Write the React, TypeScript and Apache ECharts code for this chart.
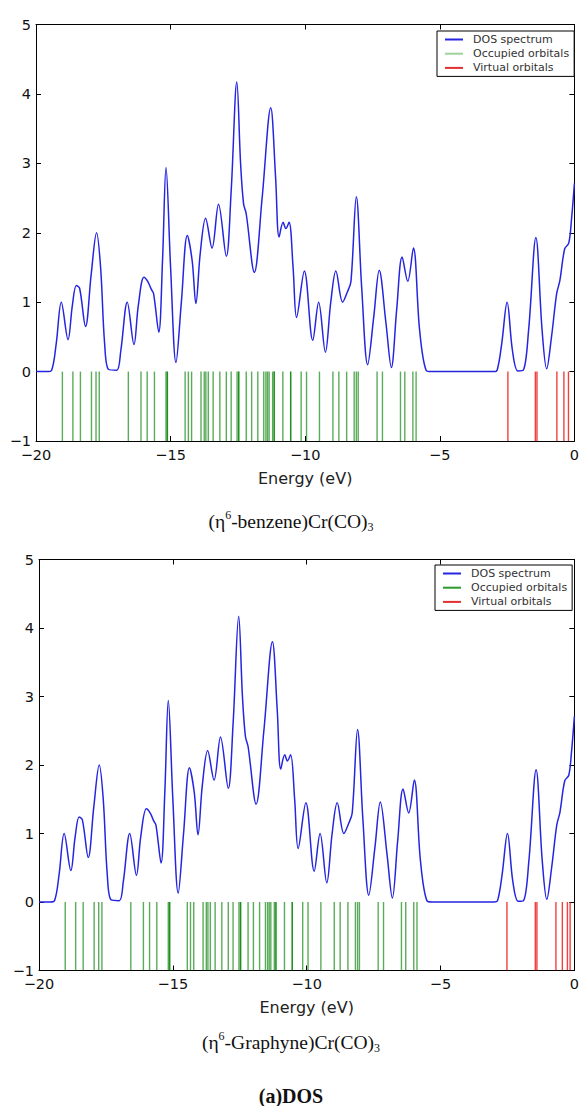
import React, { useEffect, useRef } from "react";
import * as echarts from "echarts";

// DOS spectrum: [energy (eV), DOS]
const dosSpectrum: number[][] = [
  [-20, 0], [-19.6, 0], [-19.42, 0.02], [-19.25, 0.4], [-19.06, 1.0], [-18.81, 0.46],
  [-18.65, 0.95], [-18.5, 1.24], [-18.38, 1.2], [-18.16, 0.65], [-17.95, 1.4], [-17.75, 2.0],
  [-17.6, 1.5], [-17.45, 0.4], [-17.3, 0.03], [-17.0, 0.02], [-16.85, 0.3], [-16.61, 1.0],
  [-16.36, 0.39], [-16.2, 0.95], [-15.99, 1.36], [-15.85, 1.3], [-15.71, 1.18], [-15.63, 1.12],
  [-15.44, 0.57], [-15.3, 1.6], [-15.17, 2.94], [-15.0, 1.5], [-14.8, 0.13], [-14.6, 1.0],
  [-14.38, 1.96], [-14.2, 1.6], [-14.06, 0.98], [-13.9, 1.7], [-13.7, 2.21], [-13.46, 1.78],
  [-13.22, 2.41], [-12.93, 1.66], [-12.75, 2.6], [-12.54, 4.17], [-12.4, 3.0], [-12.29, 2.42],
  [-12.19, 2.27], [-11.89, 1.43], [-11.6, 2.5], [-11.28, 3.8], [-11.1, 2.8], [-10.97, 1.94],
  [-10.82, 2.15], [-10.72, 2.06], [-10.6, 2.15], [-10.45, 1.5], [-10.32, 0.78], [-10.03, 1.45],
  [-9.72, 0.45], [-9.5, 1.0], [-9.25, 0.28], [-9.05, 1.0], [-8.86, 1.45], [-8.61, 1.0],
  [-8.43, 1.15], [-8.3, 1.3], [-8.1, 2.52], [-7.9, 1.2], [-7.68, 0.1], [-7.45, 0.8],
  [-7.25, 1.46], [-7.0, 0.7], [-6.8, 0.06], [-6.6, 0.9], [-6.4, 1.65], [-6.19, 1.3],
  [-5.98, 1.78], [-5.75, 0.6], [-5.51, 0.02], [-5.3, 0], [-3.0, 0], [-2.87, 0.02],
  [-2.7, 0.4], [-2.5, 1.0], [-2.3, 0.3], [-2.1, 0.01], [-1.9, 0.02], [-1.7, 0.6],
  [-1.43, 1.93], [-1.2, 0.6], [-1.03, 0.04], [-0.85, 0.5], [-0.66, 1.12], [-0.54, 1.31],
  [-0.36, 1.77], [-0.21, 1.85], [-0.11, 2.18], [0, 2.71],
];

// Occupied orbital energies (eV)
const occupiedOrbitals: number[] = [
  -19.02, -18.63, -18.35, -17.94, -17.77, -17.65, -16.57, -16.1, -15.87, -15.6,
  -15.17, -15.12, -15.12, -14.46, -14.34, -14.22, -13.87, -13.75, -13.69, -13.6,
  -13.42, -13.17, -12.93, -12.75, -12.53, -12.47, -12.47, -12.19, -11.99, -11.76,
  -11.54, -11.46, -11.4, -11.34, -11.21, -11.15, -11.15, -10.83, -10.54, -10.54,
  -10.15, -9.95, -9.47, -8.97, -8.75, -8.46, -8.18, -8.1, -8.03, -7.33,
  -7.13, -6.46, -6.3, -6.0, -5.88,
];

// Virtual orbital energies (eV)
const virtualBenzene: number[] = [-2.47, -1.45, -1.39, -0.65, -0.39, -0.22];
const virtualGraphyne: number[] = [-2.52, -1.46, -1.4, -0.69, -0.45, -0.26, -0.16];

const xTicks = { min: -20, max: 0, interval: 5 };
const yTicks = { min: -1, max: 5, interval: 1 };

const SERIES_NAMES = ["DOS spectrum", "Occupied orbitals", "Virtual orbitals"];

const minus = (v: number) => String(v).replace("-", "\u2212");

function orbitalSeries(name: string, energies: number[], idx: number, color: string) {
  return {
    name,
    type: "custom",
    xAxisIndex: idx * 2,
    yAxisIndex: idx * 2,
    data: energies.map((e) => [e, 0]),
    encode: { x: 0, y: 1 },
    clip: true,
    renderItem: (_p: any, api: any) => {
      const e = api.value(0);
      const a = api.coord([e, 0]);
      const b = api.coord([e, -1]);
      return {
        type: "line",
        shape: { x1: a[0], y1: a[1], x2: b[0], y2: b[1] },
        style: { stroke: color, lineWidth: 1.4 },
      };
    },
  };
}

const captionRich = {
  a: { fontFamily: "Liberation Serif", fontSize: 19.5, lineHeight: 24, fill: "#111" },
  sup: { fontFamily: "Liberation Serif", fontSize: 12, lineHeight: 12, verticalAlign: "top", fill: "#111" },
  sub: { fontFamily: "Liberation Serif", fontSize: 12, lineHeight: 12, verticalAlign: "bottom", fill: "#111" },
};

export default function App() {
  const ref = useRef<HTMLDivElement>(null);
  useEffect(() => {
    if (!ref.current) return;
    const chart = echarts.init(ref.current, null, { renderer: "svg" });
    const grids = [
      { left: 36, top: 24.5, width: 544, height: 416.5 },
      { left: 39, top: 559.5, width: 538, height: 411 },
    ];
    const labelFont = { fontFamily: "DejaVu Sans", fontSize: 14.5, color: "#111" };
    const xAxes: any[] = [];
    const yAxes: any[] = [];
    grids.forEach((_, i) => {
      const axisLine = { show: true, onZero: false, lineStyle: { color: "#000", width: 1 } };
      const tick = { show: true, inside: true, length: 5, lineStyle: { color: "#000" } };
      xAxes.push({
        type: "value", gridIndex: i, position: "bottom", ...xTicks,
        axisLine, axisTick: tick, splitLine: { show: false },
        axisLabel: { ...labelFont, margin: 6, formatter: minus },
        name: "Energy (eV)", nameLocation: "middle", nameGap: 29,
        nameTextStyle: { fontFamily: "DejaVu Sans", fontSize: 16, color: "#222" },
      });
      xAxes.push({
        type: "value", gridIndex: i, position: "top", ...xTicks,
        axisLine, axisTick: tick, splitLine: { show: false }, axisLabel: { show: false },
      });
      yAxes.push({
        type: "value", gridIndex: i, position: "left", ...yTicks,
        axisLine, axisTick: tick, splitLine: { show: false },
        axisLabel: { ...labelFont, margin: 5, formatter: minus },
      });
      yAxes.push({
        type: "value", gridIndex: i, position: "right", ...yTicks,
        axisLine, axisTick: tick, splitLine: { show: false }, axisLabel: { show: false },
      });
    });

    const legendBase = {
      orient: "vertical",
      backgroundColor: "#fff",
      borderColor: "#000",
      borderWidth: 1,
      borderRadius: 0,
      itemWidth: 18,
      itemHeight: 2,
      itemGap: 3.2,
      icon: "rect",
      selectedMode: false,
      padding: [3, 5, 3, 8],
      textStyle: { fontFamily: "DejaVu Sans", fontSize: 11, color: "#333", padding: [0, 0, 0, 5] },
    };

    const dosLine = (i: number) => ({
      name: SERIES_NAMES[0],
      type: "line",
      xAxisIndex: i * 2,
      yAxisIndex: i * 2,
      data: dosSpectrum,
      showSymbol: false,
      smooth: 0.35,
      lineStyle: { color: "#2525e0", width: 1.5 },
      itemStyle: { color: "#2525e0" },
      z: 3,
    });

    chart.setOption({
      animation: false,
      grid: grids.map((g) => ({ ...g, containLabel: false })),
      xAxis: xAxes,
      yAxis: yAxes,
      legend: [
        {
          ...legendBase, left: 437, top: 31,
          data: [
            { name: SERIES_NAMES[0], itemStyle: { color: "#2525e0" } },
            { name: SERIES_NAMES[1], itemStyle: { color: "#9ad49a" } },
            { name: SERIES_NAMES[2], itemStyle: { color: "#e03030" } },
          ],
        },
        {
          ...legendBase, left: 435, top: 565,
          data: [
            { name: SERIES_NAMES[0], itemStyle: { color: "#2525e0" } },
            { name: SERIES_NAMES[1], itemStyle: { color: "#2a9a2a" } },
            { name: SERIES_NAMES[2], itemStyle: { color: "#e03030" } },
          ],
        },
      ],
      series: [
        orbitalSeries(SERIES_NAMES[1], occupiedOrbitals, 0, "rgba(0,128,0,0.65)"),
        orbitalSeries(SERIES_NAMES[2], virtualBenzene, 0, "rgba(235,0,0,0.75)"),
        dosLine(0),
        orbitalSeries(SERIES_NAMES[1], occupiedOrbitals, 1, "rgba(0,128,0,0.65)"),
        orbitalSeries(SERIES_NAMES[2], virtualGraphyne, 1, "rgba(235,0,0,0.75)"),
        dosLine(1),
      ],
      graphic: [
        {
          type: "text", left: "center", top: 509,
          style: { text: "{a|(η}{sup|6}{a|-benzene)Cr(CO)}{sub|3}", rich: captionRich },
        },
        {
          type: "text", left: "center", top: 1030,
          style: { text: "{a|(η}{sup|6}{a|-Graphyne)Cr(CO)}{sub|3}", rich: captionRich },
        },
        {
          type: "text", left: "center", top: 1086,
          style: { text: "(a)DOS", font: "bold 20px 'Liberation Serif'", fill: "#111" },
        },
      ],
    });
    return () => chart.dispose();
  }, []);
  return (
    <div
      ref={ref}
      style={{ position: "absolute", left: 0, top: 0, width: 582, height: 1106, background: "#fff" }}
    />
  );
}
